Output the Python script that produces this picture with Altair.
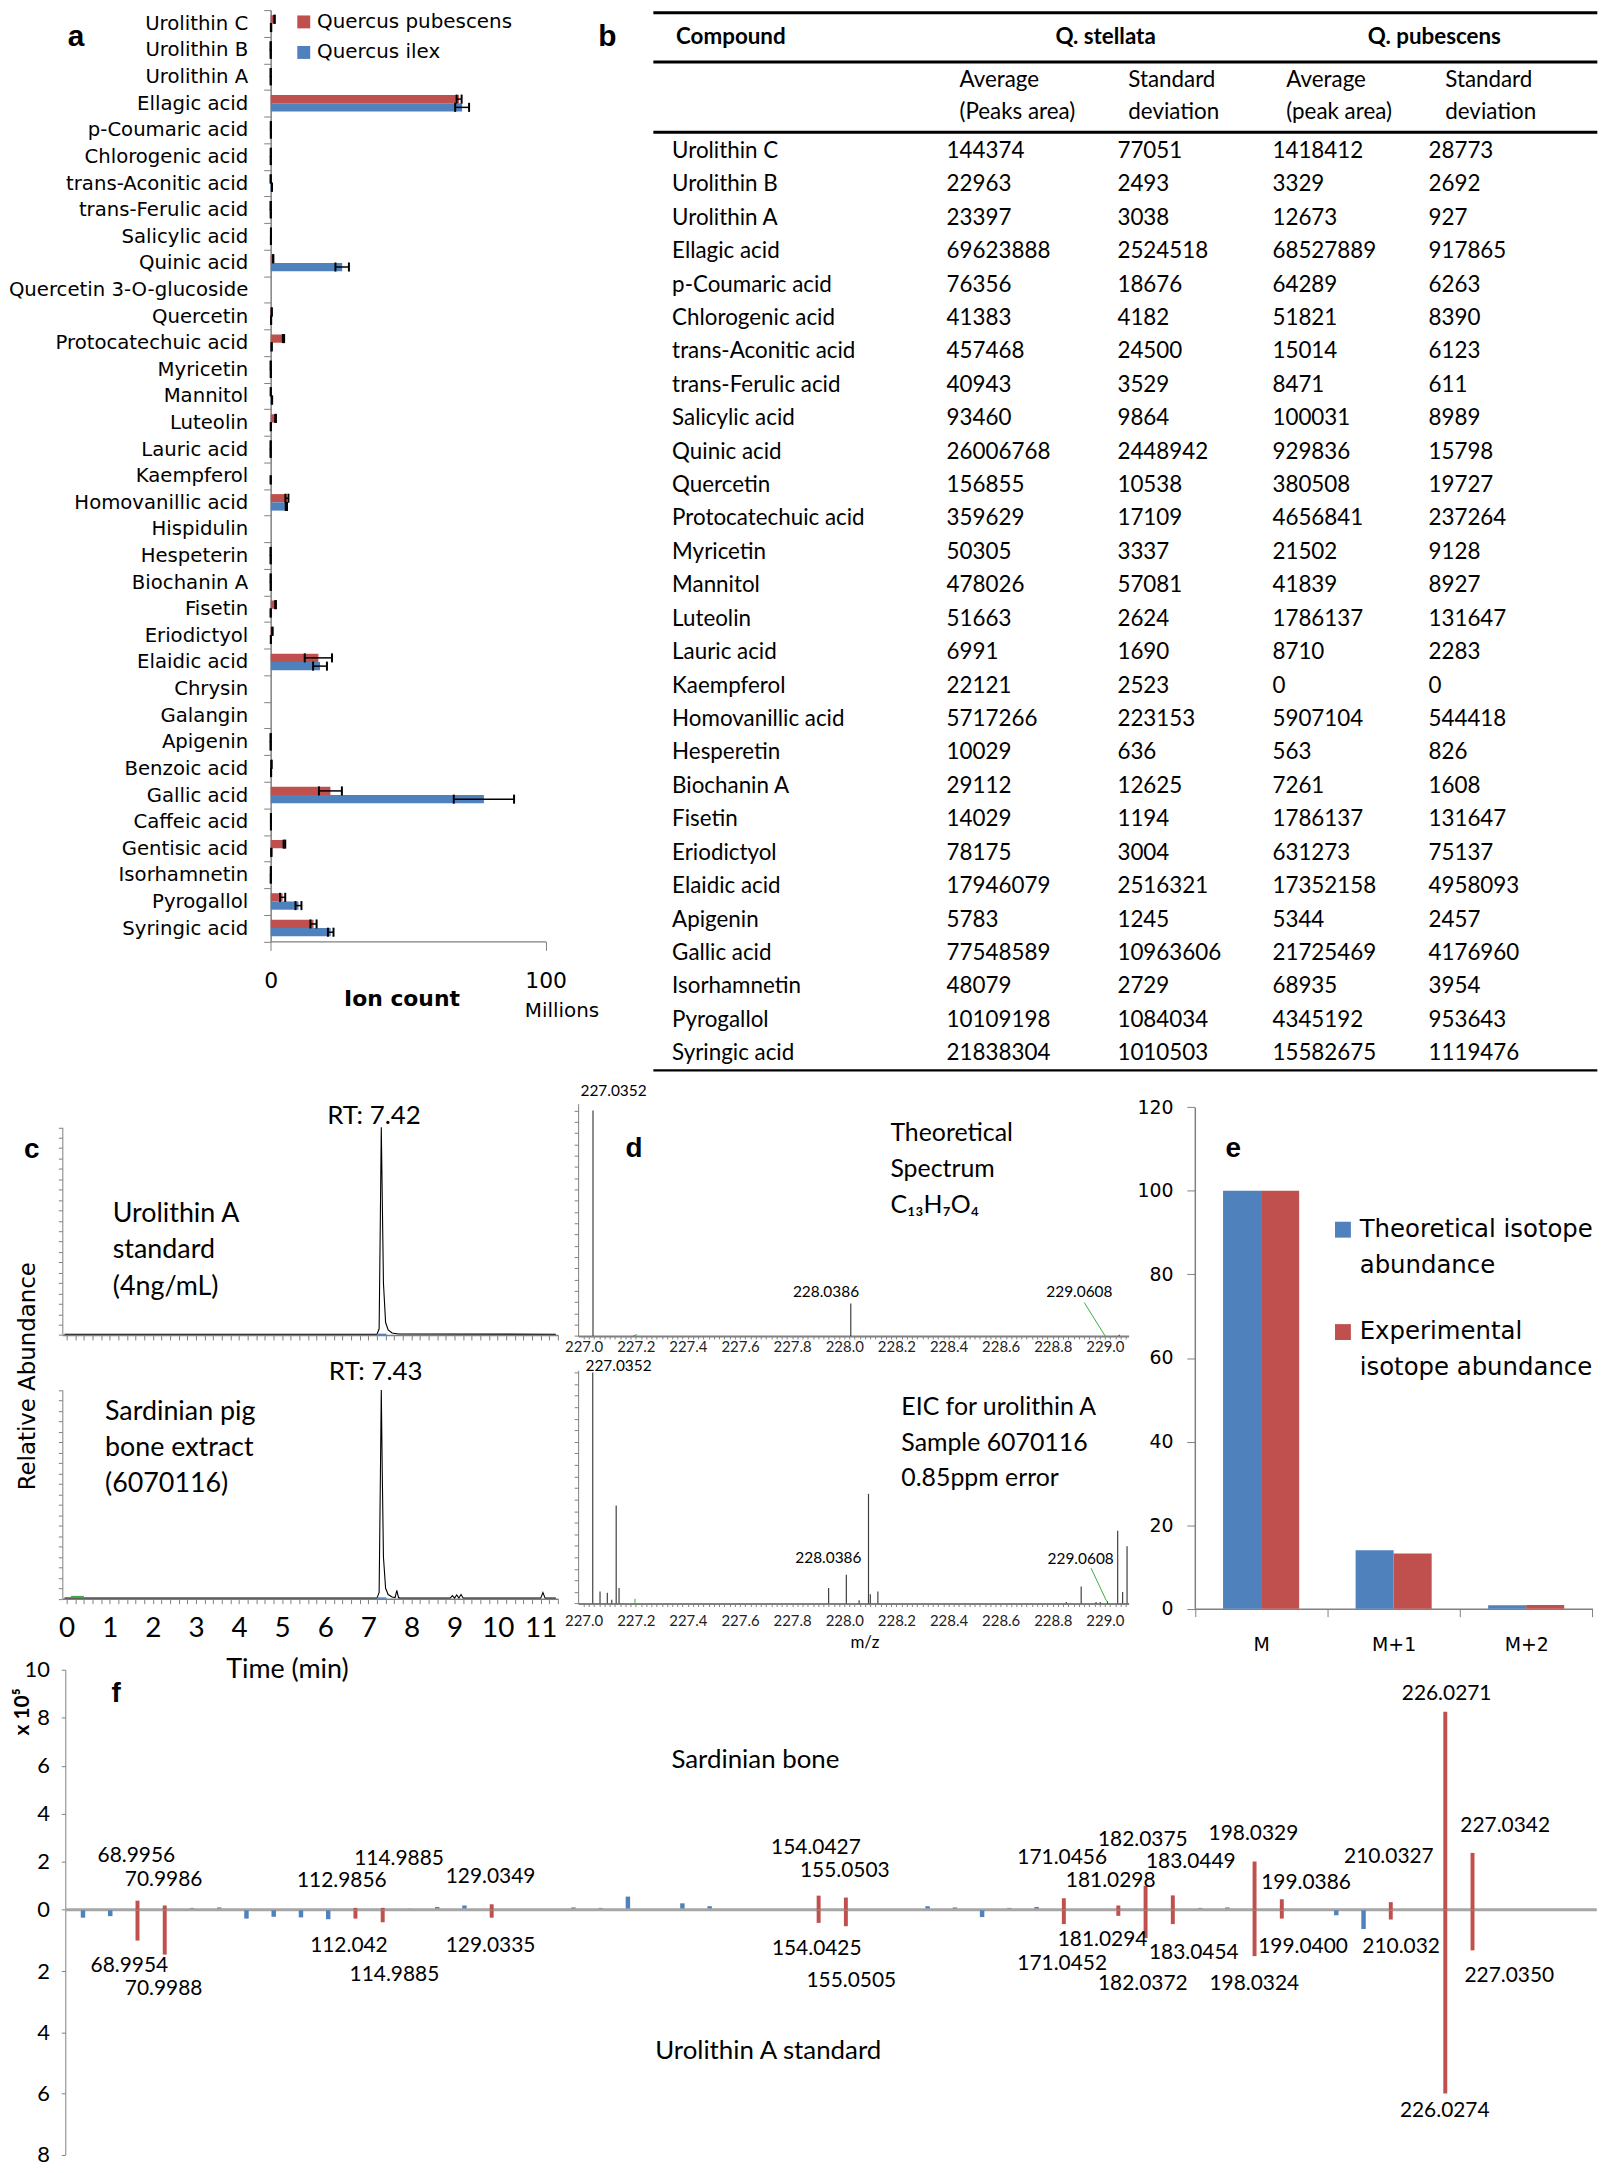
import altair as alt
import pandas as pd

SX = 0.993
SY = 0.99
def X(v): return round(v * SX, 2)
def Y(v): return round(v * SY, 2)

RED = "#C0504D"
BLUE = "#4F81BD"
GREY = "#808080"
GREEN = "#3CAA3C"

# ---------------- data: table b ----------------
table_compounds = ["Urolithin C", "Urolithin B", "Urolithin A", "Ellagic acid", "p-Coumaric acid",
                   "Chlorogenic acid", "trans-Aconitic acid", "trans-Ferulic acid", "Salicylic acid",
                   "Quinic acid", "Quercetin", "Protocatechuic acid", "Myricetin", "Mannitol", "Luteolin",
                   "Lauric acid", "Kaempferol", "Homovanillic acid", "Hesperetin", "Biochanin A", "Fisetin",
                   "Eriodictyol", "Elaidic acid", "Apigenin", "Gallic acid", "Isorhamnetin", "Pyrogallol",
                   "Syringic acid"]
stellata_avg = [144374, 22963, 23397, 69623888, 76356, 41383, 457468, 40943, 93460, 26006768, 156855,
                359629, 50305, 478026, 51663, 6991, 22121, 5717266, 10029, 29112, 14029, 78175, 17946079,
                5783, 77548589, 48079, 10109198, 21838304]
stellata_sd = [77051, 2493, 3038, 2524518, 18676, 4182, 24500, 3529, 9864, 2448942, 10538, 17109, 3337,
               57081, 2624, 1690, 2523, 223153, 636, 12625, 1194, 3004, 2516321, 1245, 10963606, 2729,
               1084034, 1010503]
pubescens_avg = [1418412, 3329, 12673, 68527889, 64289, 51821, 15014, 8471, 100031, 929836, 380508,
                 4656841, 21502, 41839, 1786137, 8710, 0, 5907104, 563, 7261, 1786137, 631273, 17352158,
                 5344, 21725469, 68935, 4345192, 15582675]
pubescens_sd = [28773, 2692, 927, 917865, 6263, 8390, 6123, 611, 8989, 15798, 19727, 237264, 9128, 8927,
                131647, 2283, 0, 544418, 826, 1608, 131647, 75137, 4958093, 2457, 4176960, 3954, 953643,
                1119476]

# ---------------- data: bar chart a ----------------
a_compounds = ["Urolithin C", "Urolithin B", "Urolithin A", "Ellagic acid", "p-Coumaric acid",
               "Chlorogenic acid", "trans-Aconitic acid", "trans-Ferulic acid", "Salicylic acid", "Quinic acid",
               "Quercetin 3-O-glucoside", "Quercetin", "Protocatechuic acid", "Myricetin", "Mannitol",
               "Luteolin", "Lauric acid", "Kaempferol", "Homovanillic acid", "Hispidulin", "Hespeterin",
               "Biochanin A", "Fisetin", "Eriodictyol", "Elaidic acid", "Chrysin", "Galangin", "Apigenin",
               "Benzoic acid", "Gallic acid", "Caffeic acid", "Gentisic acid", "Isorhamnetin", "Pyrogallol",
               "Syringic acid"]
a_series = ["Quercus pubescens", "Quercus ilex"]
extra_compounds = ["Quercetin 3-O-glucoside", "Hispidulin", "Chrysin", "Galangin", "Benzoic acid",
                   "Caffeic acid", "Gentisic acid"]
extra_pub = [0, 0, 0, 0, 300000, 100000, 5000000]
extra_pub_sd = [0, 0, 0, 0, 50000, 20000, 300000]
extra_ilex = [0, 0, 0, 0, 150000, 100000, 250000]
extra_ilex_sd = [0, 0, 0, 0, 30000, 20000, 40000]
a_alias = {"Hespeterin": "Hesperetin"}

# ---------------- data: chromatograms c ----------------
c1_time = [-0.05, 7.20, 7.25, 7.28, 7.30, 7.32, 7.35, 7.40, 7.46, 7.55, 7.70, 11.35]
c1_int = [0.4, 0.4, 3, 60, 100, 70, 25, 6, 2.5, 1.0, 0.5, 0.4]
c2_time = [-0.05, 7.20, 7.25, 7.28, 7.30, 7.32, 7.35, 7.40, 7.46, 7.55, 7.62, 7.66, 7.70, 7.75,
           8.90, 8.95, 9.00, 9.05, 9.10, 9.15, 9.20, 9.25, 11.00, 11.05, 11.10, 11.15, 11.35]
c2_int = [0.3, 0.3, 3, 60, 100, 65, 20, 5, 2, 0.8, 0.5, 4, 0.5, 0.3,
          0.3, 1.5, 0.3, 1.8, 0.3, 2.0, 0.3, 0.3, 0.3, 3.0, 0.3, 0.3, 0.3]

# ---------------- data: spectra d ----------------
d1_mz = [227.036, 228.025, 229.055]
d1_int = [100, 14.4, 0.6]
d2_mz = [227.035, 227.063, 227.091, 227.108, 227.125, 227.136, 227.94, 228.008, 228.057, 228.093,
         228.10, 228.129, 228.852, 228.909, 228.966, 228.982, 229.01, 229.049, 229.068, 229.085]
d2_int = [100, 5.2, 4.7, 1.7, 42.5, 6.7, 6.7, 12.5, 1.4, 47.5, 4.0, 5.2, 0.7, 7.4, 0.7, 0.7, 1.0,
          31.5, 5.0, 24.8]

# ---------------- data: isotopes e ----------------
e_peaks = ["M", "M+1", "M+2"]
e_series = ["Theoretical isotope abundance", "Experimental isotope abundance"]
e_theoretical = [100, 14.0, 0.8]
e_experimental = [100, 13.2, 0.9]

# ---------------- data: mirror spectrum f ----------------
f_red_idx = [2, 3, 10, 11, 15, 27, 28, 36, 38, 39, 40, 43, 44, 48, 50, 51]
f_red_top = [0.38, 0.18, 0.08, 0.08, 0.23, 0.59, 0.51, 0.48, 0.18, 1.0, 0.6, 2.01, 0.44, 0.32, 8.25, 2.37]
f_red_bottom = [0.99, 1.45, 0.27, 0.39, 0.24, 0.41, 0.52, 0.45, 0.18, 0.91, 0.45, 1.5, 0.27, 0.3, 6.0, 1.31]
f_top_labels = ["68.9956", "70.9986", "112.9856", "114.9885", "129.0349", "154.0427", "155.0503",
                "171.0456", "181.0298", "182.0375", "183.0449", "198.0329", "199.0386", "210.0327",
                "226.0271", "227.0342"]
f_bottom_labels = ["68.9954", "70.9988", "112.042", "114.9885", "129.0335", "154.0425", "155.0505",
                   "171.0452", "181.0294", "182.0372", "183.0454", "198.0324", "199.0400", "210.032",
                   "226.0274", "227.0350"]
f_top_label_k = [1.96, 2.96, 9.5, 11.6, 14.96, 26.9, 27.96, 35.94, 37.72, 38.9, 40.66, 42.96, 44.89,
                 47.93, 50.05, 52.2]
f_top_label_y = [2.22, 1.25, 1.18, 2.13, 1.35, 2.56, 1.6, 2.16, 1.2, 2.9, 1.98, 3.16, 1.13, 2.2, 9.0, 3.5]
f_bottom_label_k = [1.7, 2.96, 9.76, 11.43, 14.96, 26.93, 28.2, 35.94, 37.42, 38.9, 40.77, 42.99, 44.78,
                    48.38, 49.98, 52.35]
f_bottom_label_y = [-1.82, -2.57, -1.17, -2.12, -1.17, -1.28, -2.3, -1.75, -0.98, -2.4, -1.39, -2.41,
                    -1.2, -1.2, -6.58, -2.14]
f_blue_idx = [0, 1, 4, 5, 6, 7, 8, 9, 12, 13, 14, 16, 17, 18, 19, 20, 21, 22, 23, 24, 25, 26, 29, 30,
              31, 32, 33, 34, 35, 37, 41, 42, 45, 46, 47]
f_blue_val = [-0.24, -0.19, 0.08, 0.1, -0.27, -0.21, -0.23, -0.29, 0.05, 0.12, 0.18, 0.04, 0.04, 0.1,
              0.08, 0.55, 0.04, 0.27, 0.15, 0.04, 0.04, 0.04, 0.04, 0.04, 0.15, 0.1, -0.22, 0.08, 0.12,
              0.04, 0.08, 0.1, 0.04, -0.16, -0.61]


class P:
    """A position given in pixels of the panel (annotation anchor)."""
    def __init__(self, v):
        self.v = v


def note(text, x, y, size, font="Lato", weight="normal", align="center", baseline="middle", **kw):
    d = {"label": [text]}
    enc = {"text": alt.Text("label:N")}
    if isinstance(x, P):
        enc["x"] = alt.value(x.v)
    else:
        d["nx"] = [x]
        enc["x"] = alt.X("nx:Q")
    if isinstance(y, P):
        enc["y"] = alt.value(y.v)
    else:
        d["ny"] = [y]
        enc["y"] = alt.Y("ny:Q")
    return alt.Chart(pd.DataFrame(d)).mark_text(font=font, fontSize=size, fontWeight=weight, align=align,
                                                baseline=baseline, color="black", **kw).encode(**enc)


def lines(texts, x, y0, step, size, font="Lato", align="left"):
    return [note(t, x, P(Y(y0 + i * step)), size, font=font, align=align) for i, t in enumerate(texts)]


def seg(x1, x2, y1, y2, color, w):
    df = pd.DataFrame({"sx1": [x1], "sx2": [x2], "sy1": [y1], "sy2": [y2]})
    return alt.Chart(df).mark_rule(color=color, strokeWidth=w).encode(
        x=alt.X("sx1:Q"), x2="sx2:Q", y=alt.Y("sy1:Q"), y2="sy2:Q")


def swatch(color, x, y, size):
    return alt.Chart(pd.DataFrame({"s": [0]})).mark_square(size=size, color=color, opacity=1).encode(
        x=alt.value(x), y=alt.value(y))


# ================= panel a =================
tab_pos = {c: i for i, c in enumerate(table_compounds)}
ext_pos = {c: i for i, c in enumerate(extra_compounds)}
BAR_HALF = 0.155
rows, caps = [], []
for k, c in enumerate(a_compounds):
    key = a_alias.get(c, c)
    if key in tab_pos:
        i = tab_pos[key]
        pv, ps, iv, isd = pubescens_avg[i], pubescens_sd[i], stellata_avg[i], stellata_sd[i]
    else:
        j = ext_pos[c]
        pv, ps, iv, isd = extra_pub[j], extra_pub_sd[j], extra_ilex[j], extra_ilex_sd[j]
    for s, v, e, off in ((a_series[0], pv, ps, -BAR_HALF), (a_series[1], iv, isd, BAR_HALF)):
        pos = k + off
        rows.append(dict(series=s, value=v / 1e6, err=e / 1e6, lo=(v - e) / 1e6, hi=(v + e) / 1e6,
                         pos=pos, y1=pos - BAR_HALF, y2=pos + BAR_HALF, zero=0.0))
        if e > 0:
            for xv in ((v - e) / 1e6, (v + e) / 1e6):
                caps.append(dict(xv=xv, c1=pos - 0.17, c2=pos + 0.17))
a_df = pd.DataFrame(rows)
a_err = a_df[a_df["err"] > 0]
caps_df = pd.DataFrame(caps)

a_x = alt.Scale(domain=[0, 100], range=[X(264), X(542.5)], nice=False, zero=False)
a_band = alt.Scale(domain=a_compounds, range=[0, Y(946)], paddingInner=0, paddingOuter=0)
a_q = alt.Scale(domain=[-0.5, len(a_compounds) - 0.5], range=[0, Y(946)], nice=False, zero=False)
a_xaxis = alt.Axis(values=[0, 100], title=None, labelFont="DejaVu Sans", labelFontSize=22, labelPadding=20,
                   tickSize=9, tickColor=GREY, domainColor=GREY, domainWidth=1.5, labelFlush=False)
a_yaxis = alt.Axis(title=None, offset=-X(264), labelFont="DejaVu Sans", labelFontSize=19.8,
                   labelPadding=16, labelLimit=400, tickBand="extent", tickSize=7, tickColor=GREY,
                   domainColor=GREY, domainWidth=1.5, labelColor="black")

a_axis_layer = alt.Chart(pd.DataFrame({"compound": a_compounds, "zero": [0.0] * len(a_compounds)})).mark_point(
    opacity=0).encode(
    x=alt.X("zero:Q", scale=a_x, axis=a_xaxis),
    y=alt.Y("compound:N", scale=a_band, axis=a_yaxis))


def a_bar_layer(series, color):
    return alt.Chart(a_df[a_df["series"] == series]).mark_rect(color=color).encode(
        x=alt.X("zero:Q"), x2="value:Q", y=alt.Y("y1:Q", scale=a_q, axis=None), y2="y2:Q")


a_rule = alt.Chart(a_err).mark_rule(color="black", strokeWidth=1.5).encode(
    x=alt.X("lo:Q"), x2="hi:Q", y=alt.Y("pos:Q", scale=a_q, axis=None))
a_caps = alt.Chart(caps_df).mark_rule(color="black", strokeWidth=2).encode(
    x=alt.X("xv:Q"), y=alt.Y("c1:Q", scale=a_q, axis=None), y2="c2:Q")

A = alt.layer(
    a_axis_layer, a_bar_layer(a_series[0], RED), a_bar_layer(a_series[1], BLUE), a_rule, a_caps,
    swatch(RED, X(297.5), Y(12), 169),
    swatch(BLUE, X(297.5), Y(43), 169),
    note(a_series[0], P(X(311)), P(Y(12)), 20, font="DejaVu Sans", align="left"),
    note(a_series[1], P(X(311)), P(Y(43)), 20, font="DejaVu Sans", align="left"),
    note("Ion count", P(X(397)), P(Y(1005)), 22, font="DejaVu Sans", weight="bold"),
    note("Millions", P(X(559)), P(Y(1017)), 20, font="DejaVu Sans"),
    note("a", P(X(67)), P(Y(27)), 30, font="Liberation Sans", weight="bold"),
    note("b", P(X(605)), P(Y(27)), 30, font="Liberation Sans", weight="bold"),
).resolve_scale(y="independent").properties(width=X(651), height=Y(946))

# ================= panel b (table) =================
b_x = alt.Scale(domain=[0, 956], range=[0, X(956)], nice=False, zero=False)
b_y = alt.Scale(domain=[0, 1085], range=[0, Y(1085)], nice=False, zero=False)
col_left = [19, 297, 470, 627, 785]
row_top, row_step = 143, 33.95
cells = []
for i, c in enumerate(table_compounds):
    yy = row_top + row_step * i
    vals = [c, str(stellata_avg[i]), str(stellata_sd[i]), str(pubescens_avg[i]), str(pubescens_sd[i])]
    for cx, v in zip(col_left, vals):
        cells.append(dict(x=cx, y=yy, text=v))
sub_left = [310, 481, 641, 802]
sub_line1 = ["Average", "Standard", "Average", "Standard"]
sub_line2 = ["(Peaks area)", "deviation", "(peak area)", "deviation"]
for cx, s1, s2 in zip(sub_left, sub_line1, sub_line2):
    cells.append(dict(x=cx, y=71, text=s1))
    cells.append(dict(x=cx, y=104, text=s2))
cells_df = pd.DataFrame(cells)
head_left = pd.DataFrame({"x": [23], "y": [27], "text": ["Compound"]})
head_center = pd.DataFrame({"x": [458, 791], "y": [27, 27], "text": ["Q. stellata", "Q. pubescens"]})
lines_thick = pd.DataFrame({"y": [2.7, 52.7, 124], "x1": [0] * 3, "x2": [956] * 3})
lines_thin = pd.DataFrame({"y": [1077], "x1": [0], "x2": [956]})


def tab_text(df, align, weight):
    return alt.Chart(df).mark_text(font="Lato", fontSize=22.5, align=align, baseline="middle",
                                   fontWeight=weight, color="black").encode(
        x=alt.X("x:Q", scale=b_x, axis=None), y=alt.Y("y:Q", scale=b_y, axis=None), text="text:N")


def tab_line(df, w):
    return alt.Chart(df).mark_rule(color="black", strokeWidth=w).encode(
        x=alt.X("x1:Q", scale=b_x, axis=None), x2="x2:Q", y=alt.Y("y:Q", scale=b_y, axis=None))


B = alt.layer(tab_text(cells_df, "left", "normal"), tab_text(head_left, "left", "bold"),
              tab_text(head_center, "center", "bold"), tab_line(lines_thick, 3),
              tab_line(lines_thin, 2.4)).properties(width=X(956), height=Y(1085))

# ================= panel c =================
c_x = alt.Scale(domain=[-0.1, 11.4], range=[X(53), X(555)], nice=False, zero=False)
c1_y = alt.Scale(domain=[0, 100], range=[Y(260), Y(49)], nice=False, zero=False)
c2_y = alt.Scale(domain=[0, 100], range=[Y(242), Y(30)], nice=False, zero=False)
c_ticks = [round(0.2 * i, 1) for i in range(58)]
int_test = "abs(datum.value - round(datum.value)) < 0.01"


def c_yaxis():
    return alt.Axis(values=list(range(0, 101, 5)), tickCount=100, labels=False, tickSize=4, tickColor=GREY,
                    domainColor=GREY, offset=-X(53), title=None)


def c_xaxis(offset, labels):
    kw = dict(values=c_ticks, tickCount=300, tickColor=GREY, domainColor=GREY, domainWidth=1.5, offset=offset,
              tickSize=5, labelFlush=False, labelOverlap=False, title=None)
    if labels:
        kw.update(labelExpr=f"{int_test} ? format(datum.value, 'd') : ''", labelFont="Lato",
                  labelFontSize=28, labelPadding=11, labelColor="black")
    else:
        kw.update(labels=False)
    return alt.Axis(**kw)


c1_df = pd.DataFrame({"t": c1_time, "v": c1_int})
c2_df = pd.DataFrame({"t": c2_time, "v": c2_int})
C1_H, C2_H = 285, 292
c1_line = alt.Chart(c1_df).mark_line(color="black", strokeWidth=1.1).encode(
    x=alt.X("t:Q", scale=c_x, axis=c_xaxis(-(Y(C1_H) - Y(260)), False)),
    y=alt.Y("v:Q", scale=c1_y, axis=c_yaxis()))
C1 = alt.layer(
    c1_line,
    seg(7.22, 7.42, 0.3, 0.3, BLUE, 1.5),
    note("RT: 7.42", 7.13, 105.2, 26),
    note("c", -0.81, 89, 28, font="Liberation Sans", weight="bold"),
    *lines(["Urolithin A", "standard", "(4ng/mL)"], 1.07, 1222 - 1085, 37, 27),
).properties(width=X(555), height=Y(C1_H))

c2_line = alt.Chart(c2_df).mark_line(color="black", strokeWidth=1.1).encode(
    x=alt.X("t:Q", scale=c_x, axis=c_xaxis(-(Y(C2_H) - Y(242)), True)),
    y=alt.Y("v:Q", scale=c2_y, axis=c_yaxis()))
C2 = alt.layer(
    c2_line,
    seg(7.22, 7.42, 0.3, 0.3, BLUE, 1.5),
    seg(0.1, 0.4, 1.0, 1.0, GREEN, 1.5),
    note("RT: 7.43", 7.17, 108.5, 26),
    *lines(["Sardinian pig", "bone extract", "(6070116)"], 0.89, 1422 - 1370, 37, 27),
    note("Relative Abundance", P(X(18)), P(Y(16)), 23, font="DejaVu Sans", angle=270),
).properties(width=X(555), height=Y(C2_H))

# ================= panel d =================
d_x = alt.Scale(domain=[226.979, 229.091], range=[X(19.5), X(577)], nice=False, zero=False)
d1_y = alt.Scale(domain=[0, 103], range=[Y(261), Y(25)], nice=False, zero=False)
d2_y = alt.Scale(domain=[0, 101], range=[Y(254), Y(17)], nice=False, zero=False)
d_ticks = [round(227.0 + 0.02 * i, 2) for i in range(105)]
fifth_test = "abs(datum.value * 5 - round(datum.value * 5)) < 0.01"
D1_H, D2_H = 278, 299


def d_yaxis():
    return alt.Axis(values=list(range(0, 101, 5)), tickCount=100, labels=False, tickSize=4, tickColor=GREY,
                    domainColor=GREY, offset=-X(19.5), title=None)


def d_xaxis(offset, pad):
    return alt.Axis(values=d_ticks, tickCount=300, tickColor=GREY, domainColor=GREY, domainWidth=2,
                    offset=offset, tickSize=3,
                    labelExpr=f"{fifth_test} ? format(datum.value, '.1f') : ''", labelFont="Lato",
                    labelFontSize=15, labelPadding=pad, labelColor="#222", labelFlush=False,
                    labelOverlap=False, title=None)


def sticks(mz, inten, color, xaxis, yscale, yaxis):
    df = pd.DataFrame({"mz": mz, "base": [0] * len(mz), "inten": inten})
    return alt.Chart(df).mark_rule(color=color, strokeWidth=1.2).encode(
        x=alt.X("mz:Q", scale=d_x, axis=xaxis), y=alt.Y("base:Q", scale=yscale, axis=yaxis), y2="inten:Q")


D1 = alt.layer(
    sticks(d1_mz, d1_int, "#404040", d_xaxis(-(Y(D1_H) - Y(261)), 1), d1_y, d_yaxis()),
    seg(227.19, 227.205, 0, 0.6, GREEN, 1),
    seg(228.921, 229.001, 14.8, 0, GREEN, 1),
    note("227.0352", 227.115, 108.7, 15.5),
    note("228.0386", 227.93, 19.6, 15.5),
    note("229.0608", 228.902, 19.6, 15.5),
    note("d", 227.193, 82.9, 28, font="Liberation Sans", weight="bold"),
    *lines(["Theoretical", "Spectrum", "C\u2081\u2083H\u2087O\u2084"], 228.177, 1140 - 1085, 36.7, 25),
).properties(width=X(577), height=Y(D1_H))

D2 = alt.layer(
    sticks(d2_mz, d2_int, "#404040", d_xaxis(-(Y(D2_H) - Y(254)), 7), d2_y, d_yaxis()),
    seg(227.197, 227.197, 0, 2.1, GREEN, 1),
    seg(228.947, 229.007, 15.3, 0.9, GREEN, 1),
    note("227.0352", 227.134, 102.8, 15.5),
    note("228.0386", 227.939, 19.6, 15.5),
    note("229.0608", 228.907, 19.2, 15.5),
    note("m/z", 228.079, P(Y(1657 - 1363)), 17),
    *lines(["EIC for urolithin A", "Sample 6070116", "0.85ppm error"], 228.219, 1417 - 1363, 36.5, 25),
).properties(width=X(577), height=Y(D2_H))

# ================= panel e =================
E_H = 577
e_band = alt.Scale(domain=e_peaks, range=[X(67), X(469.7)], paddingInner=0, paddingOuter=0)
e_q = alt.Scale(domain=[-0.5, 2.5], range=[X(67), X(469.7)], nice=False, zero=False)
e_y = alt.Scale(domain=[0, 120], range=[Y(538), Y(28.7)], nice=False, zero=False)
e_xaxis = alt.Axis(title=None, labelAngle=0, tickBand="extent", tickSize=8, tickColor=GREY, domainColor=GREY,
                   domainWidth=1.5, labelFont="DejaVu Sans", labelFontSize=19, labelPadding=19,
                   labelColor="black", offset=-(Y(E_H) - Y(538)))
e_yaxis = alt.Axis(title=None, values=list(range(0, 121, 20)), tickSize=8, tickColor=GREY, domainColor=GREY,
                   domainWidth=1.5, labelFont="DejaVu Sans", labelFontSize=19, labelPadding=14,
                   labelColor="black", offset=-X(67))
E_BAR = 0.287
e_rows = []
for k, (t, ex) in enumerate(zip(e_theoretical, e_experimental)):
    e_rows.append(dict(series=e_series[0], x1=k - E_BAR, x2=k, base=0.0, v=t))
    e_rows.append(dict(series=e_series[1], x1=k, x2=k + E_BAR, base=0.0, v=ex))
e_df = pd.DataFrame(e_rows)
e_axis_layer = alt.Chart(pd.DataFrame({"peak": e_peaks, "base": [0.0] * 3})).mark_point(opacity=0).encode(
    x=alt.X("peak:N", scale=e_band, axis=e_xaxis),
    y=alt.Y("base:Q", scale=e_y, axis=e_yaxis))


def e_bar_layer(series, color):
    return alt.Chart(e_df[e_df["series"] == series]).mark_rect(color=color).encode(
        x=alt.X("x1:Q", scale=e_q, axis=None), x2="x2:Q", y=alt.Y("base:Q"), y2="v:Q")


E = alt.layer(
    e_axis_layer, e_bar_layer(e_series[0], BLUE), e_bar_layer(e_series[1], RED),
    swatch(BLUE, X(217), Y(1238 - 1085), 256),
    swatch(RED, X(217), Y(1342 - 1085), 256),
    *lines(["Theoretical isotope", "abundance"], P(X(234)), 1238 - 1085, 37, 24.5, font="DejaVu Sans"),
    *lines(["Experimental", "isotope abundance"], P(X(234)), 1342 - 1085, 37, 24.5, font="DejaVu Sans"),
    note("e", P(X(106)), P(Y(1156.5 - 1085)), 28, font="Liberation Sans", weight="bold"),
).resolve_scale(x="independent").properties(width=X(475), height=Y(E_H))

# ================= panel f =================
FT_H, FB_H = 255, 253
f_x = alt.Scale(domain=[-0.65, 55.56], range=[X(56), X(1607)], nice=False, zero=False)
ft_y = alt.Scale(domain=[0, 10], range=[Y(FT_H), Y(11)], nice=False, zero=False)
fb_y = alt.Scale(domain=[-8, 0], range=[Y(248), 0], nice=False, zero=False)


def f_axis(values):
    return alt.Axis(values=values, labelExpr="abs(datum.value)", title=None, offset=-X(56), tickSize=4,
                    tickColor=GREY, domainColor=GREY, labelFont="Lato", labelFontSize=22, labelPadding=12,
                    labelColor="black", labelFlush=False)


red_df = pd.DataFrame({"k": f_red_idx, "base": [0] * len(f_red_idx), "top": f_red_top,
                       "bottom": [-v for v in f_red_bottom]})
blue_df = pd.DataFrame({"k": f_blue_idx, "base": [0] * len(f_blue_idx), "v": f_blue_val})
blue_up = blue_df[blue_df["v"] > 0]
blue_down = blue_df[blue_df["v"] < 0]
ftop_lab = pd.DataFrame({"k": f_top_label_k, "y": f_top_label_y, "label": f_top_labels})
fbot_lab = pd.DataFrame({"k": f_bottom_label_k, "y": f_bottom_label_y, "label": f_bottom_labels})


def f_main(df, yscale, axis):
    return alt.Chart(df).mark_rule(color=BLUE, strokeWidth=X(4.5)).encode(
        x=alt.X("k:Q", scale=f_x, axis=None), y=alt.Y("base:Q", scale=yscale, axis=axis), y2="v:Q")


def f_red(field):
    return alt.Chart(red_df).mark_rule(color=RED, strokeWidth=X(4)).encode(
        x=alt.X("k:Q"), y=alt.Y("base:Q"), y2=f"{field}:Q")


def f_text(df):
    return alt.Chart(df).mark_text(font="Lato", fontSize=21, color="black", baseline="middle").encode(
        x=alt.X("k:Q"), y=alt.Y("y:Q"), text="label:N")


Ftop = alt.layer(
    f_main(blue_up, ft_y, f_axis([0, 2, 4, 6, 8, 10])),
    seg(-0.65, 55.56, 0, 0, "#A6A6A6", 3),
    f_red("top"),
    f_text(ftop_lab),
    note("Time (min)", P(X(281)), P(Y(11)), 27),
    note("Sardinian bone", 24.68, 6.23, 26),
    note("f", 1.22, 8.98, 28, font="Liberation Sans", weight="bold"),
    note("x 10\u2075", P(X(13)), 8.24, 21, weight="bold", angle=270),
).properties(width=X(1607), height=Y(FT_H))
Fbot = alt.layer(
    f_main(blue_down, fb_y, f_axis([-8, -6, -4, -2])),
    f_red("bottom"),
    f_text(fbot_lab),
    note("Urolithin A standard", 25.15, -4.61, 26),
).properties(width=X(1607), height=Y(FB_H))

# ================= layout =================
Ccol = alt.vconcat(C1, C2, spacing=0, bounds="flush")
Dcol = alt.vconcat(D1, D2, spacing=0, bounds="flush")
Fcol = alt.vconcat(Ftop, Fbot, spacing=0, bounds="flush")
row1 = alt.hconcat(A, B, spacing=0, bounds="flush")
row2 = alt.hconcat(Ccol, Dcol, E, spacing=0)

chart = alt.vconcat(row1, row2, Fcol, spacing=0).properties(
    padding={"left": 0, "top": -14, "right": 0, "bottom": 0}).configure(
    font="Lato").configure_view(stroke=None).configure_axis(grid=False, labelColor="black",
                                                             titleColor="black")

chart.save("out.html", embed_options={"renderer": "svg", "actions": False})
